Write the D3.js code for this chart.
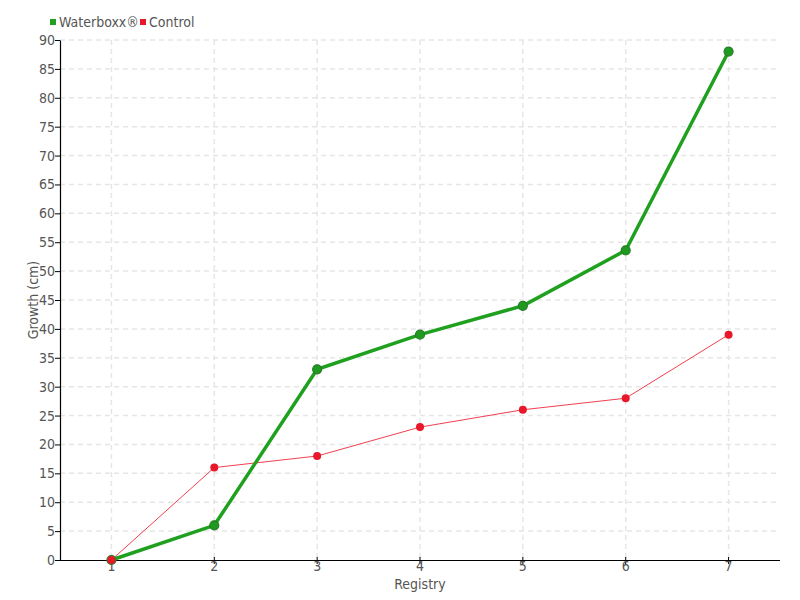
<!DOCTYPE html>
<html><head><meta charset="utf-8">
<script src="https://cdn.jsdelivr.net/npm/d3@7"></script>
<style>
body{margin:0;background:#fff;}
text{font-family:"DejaVu Sans",sans-serif;font-stretch:condensed;fill:#555;}
</style></head>
<body><svg id="c" width="800" height="600"></svg>
<script>
const categories = ["1","2","3","4","5","6","7"];
const waterboxx = [0, 6, 33, 39, 44, 53.6, 88];
const control = [0, 16, 18, 23, 26, 28, 39];
const yTicks = d3.range(0, 91, 5);
const seriesNames = ["Waterboxx®", "Control"];

const svg = d3.select("#c");
const m = {l:60, r:20, t:40, b:40};
const W = 800, H = 600;
const x = d3.scaleBand().domain(categories).range([m.l, W - m.r]);
const y = d3.scaleLinear().domain([0, 90]).range([H - m.b, m.t]);
const cx = d => x(d) + x.bandwidth()/2;
const FONT = '"DejaVu Sans",sans-serif';

// grid
const g = svg.append("g");
g.selectAll("line.h").data(yTicks.filter(d=>d>0)).enter().append("line")
  .attr("x1", m.l).attr("x2", W - m.r).attr("y1", d=>y(d)).attr("y2", d=>y(d))
  .attr("stroke", "#e6e6e6").attr("stroke-dasharray", "5,4").attr("stroke-width", 1.5);
g.selectAll("line.v").data(categories).enter().append("line")
  .attr("x1", cx).attr("x2", cx).attr("y1", m.t).attr("y2", H - m.b)
  .attr("stroke", "#e6e6e6").attr("stroke-dasharray", "5,4").attr("stroke-width", 1.5);

// axes
const yAxis = svg.append("g").attr("transform", `translate(${m.l},0)`)
  .call(d3.axisLeft(y).tickValues(yTicks).tickSize(5).tickSizeOuter(0));
const xAxis = svg.append("g").attr("transform", `translate(0,${H - m.b})`)
  .call(d3.axisBottom(x).tickSize(5).tickSizeOuter(0));
[yAxis, xAxis].forEach(a => {
  a.select(".domain").attr("stroke", "#000").attr("stroke-width", 1.2);
  a.selectAll(".tick line").attr("stroke", "#000");
  a.selectAll("text").attr("font-size", 14).style("font-family", FONT).style("font-stretch", "condensed").attr("fill", "#555");
});
yAxis.selectAll("text").attr("x", -5);
xAxis.selectAll(".tick line").attr("y1", -3).attr("y2", 4);
xAxis.selectAll("text").attr("y", 1);
xAxis.select(".domain").attr("d", `M${m.l},0.5H${W - m.r}`);

// labels
svg.append("text").attr("x", (m.l + W - m.r)/2).attr("y", 589).attr("text-anchor", "middle")
  .attr("font-size", 14).text("Registry");
svg.append("text").attr("transform", `translate(38,${(m.t + H - m.b)/2}) rotate(-90)`)
  .attr("text-anchor", "middle").attr("font-size", 14).text("Growth (cm)");

// lines
const line = d3.line().x((d,i)=>cx(categories[i])).y(d=>y(d));
svg.append("path").datum(control).attr("d", line).attr("fill", "none")
  .attr("stroke", "#f0404f").attr("stroke-width", 1);
svg.append("path").datum(waterboxx).attr("d", line).attr("fill", "none")
  .attr("stroke", "#1fa01f").attr("stroke-width", 3.5);
svg.selectAll("circle.w").data(waterboxx).enter().append("circle")
  .attr("cx", (d,i)=>cx(categories[i])).attr("cy", d=>y(d)).attr("r", 4.5)
  .attr("fill", "#1e9a1e").attr("stroke", "#2a7a2a").attr("stroke-width", 1.2);
svg.selectAll("circle.c").data(control).enter().append("circle")
  .attr("cx", (d,i)=>cx(categories[i])).attr("cy", d=>y(d)).attr("r", 4)
  .attr("fill", "#e8182a");

// legend
const colors = ["#1fa01f", "#e8182a"];
const legX = [50, 140];
seriesNames.forEach((n,i) => {
  svg.append("rect").attr("x", legX[i]).attr("y", 19).attr("width", 6).attr("height", 6).attr("fill", colors[i]);
  svg.append("text").attr("x", legX[i] + 9).attr("y", 27).attr("font-size", 14).text(n);
});
</script></body></html>
